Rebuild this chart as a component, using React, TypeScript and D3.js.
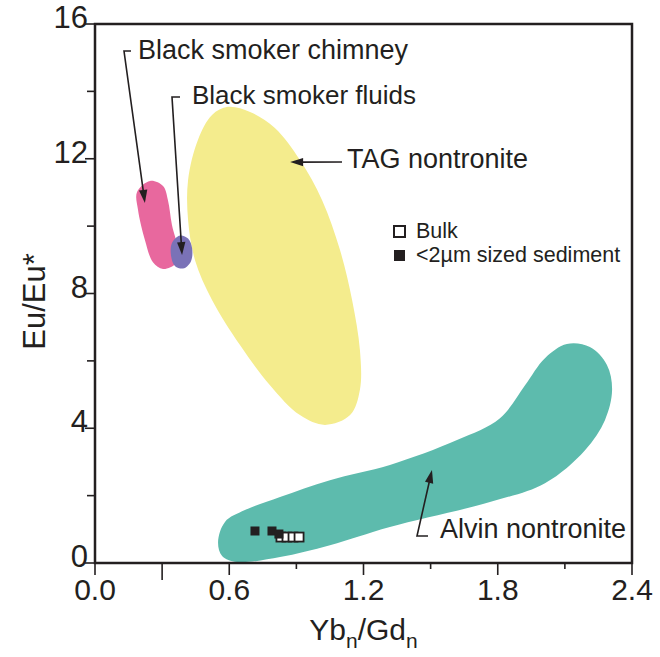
import React from 'react';
import * as d3 from 'd3';

// ---- axis ticks ----
const xTicksMajor = [0, 0.6, 1.2, 1.8, 2.4];
const xTickLabels = ['0.0', '0.6', '1.2', '1.8', '2.4'];
const xTicksMinor = [0.3, 0.9, 1.5, 2.1];
const yTicksMajor = [0, 4, 8, 12, 16];
const yTicksMinor = [2, 6, 10, 14];

// ---- field outlines (Yb_n/Gd_n, Eu/Eu*) ----
const chimneyX = [0.246, 0.304, 0.326, 0.344, 0.371, 0.362, 0.304, 0.259, 0.223, 0.192, 0.188];
const chimneyY = [11.34, 11.19, 10.77, 10.03, 9.29, 8.9, 8.73, 8.93, 9.59, 10.49, 11.01];

const fluidsX = [0.38, 0.416, 0.434, 0.429, 0.398, 0.358, 0.34, 0.344];
const fluidsY = [9.72, 9.63, 9.34, 8.96, 8.75, 8.81, 9.11, 9.5];

const tagX = [0.594, 0.693, 0.804, 0.916, 1.015, 1.095, 1.149, 1.184, 1.184, 1.14, 1.028, 0.916, 0.782, 0.648, 0.523, 0.447, 0.416, 0.416, 0.46, 0.523];
const tagY = [13.54, 13.39, 12.91, 11.96, 10.77, 9.29, 7.81, 6.32, 5.14, 4.39, 4.1, 4.39, 5.28, 6.47, 7.81, 8.99, 10.18, 11.37, 12.56, 13.3];

const alvinX = [0.55, 0.581, 0.67, 0.827, 1.05, 1.318, 1.618, 1.81, 1.922, 2.011, 2.109, 2.212, 2.288, 2.311, 2.279, 2.19, 2.011, 1.765, 1.318, 1.05, 0.827, 0.635, 0.568];
const alvinY = [0.62, 1.22, 1.57, 1.96, 2.46, 2.91, 3.65, 4.3, 5.28, 6.08, 6.5, 6.41, 5.88, 5.14, 4.24, 3.35, 2.37, 1.81, 1.07, 0.53, 0.18, 0.03, 0.21];

// ---- samples ----
const bulkX = [0.831, 0.858, 0.885, 0.912];
const bulkY = [0.77, 0.77, 0.77, 0.77];
const fineX = [0.715, 0.791, 0.822];
const fineY = [0.95, 0.95, 0.86];

// ---- labels ----
const fieldNames = ['Black smoker chimney', 'Black smoker fluids', 'TAG nontronite', 'Alvin nontronite'];
const legendNames = ['Bulk', '<2\u00b5m sized sediment'];

const W = 660;
const H = 657;
const left = 95, right = 632, top = 24, bottom = 563;
const ink = '#231f20';
const font = '"Liberation Sans", Arial, Helvetica, sans-serif';

const x = d3.scaleLinear().domain([0, 2.4]).range([left, right]);
const y = d3.scaleLinear().domain([0, 16]).range([bottom, top]);

const blob = d3
  .line<[number, number]>()
  .x((d) => x(d[0]))
  .y((d) => y(d[1]))
  .curve(d3.curveCatmullRomClosed.alpha(0.5));

const zip = (a: number[], b: number[]) => a.map((v, i) => [v, b[i]] as [number, number]);

function Arrow({ pts, tip }: { pts: [number, number][]; tip: [number, number] }) {
  const last = pts[pts.length - 1];
  const ang = Math.atan2(tip[1] - last[1], tip[0] - last[0]);
  const L = 13, hw = 4.2;
  const bx = tip[0] - L * Math.cos(ang);
  const by = tip[1] - L * Math.sin(ang);
  const p1 = [bx + hw * Math.sin(ang), by - hw * Math.cos(ang)];
  const p2 = [bx - hw * Math.sin(ang), by + hw * Math.cos(ang)];
  const line = [...pts, [bx + 2 * Math.cos(ang), by + 2 * Math.sin(ang)]]
    .map((p) => p.join(','))
    .join(' ');
  return (
    <g>
      <polyline points={line} fill="none" stroke={ink} strokeWidth={1.6} />
      <polygon points={`${tip[0]},${tip[1]} ${p1[0]},${p1[1]} ${p2[0]},${p2[1]}`} fill={ink} />
    </g>
  );
}

export default function App() {
  const fields = [
    { pts: zip(tagX, tagY), color: '#f4ec8d' },
    { pts: zip(alvinX, alvinY), color: '#5dbbad' },
    { pts: zip(chimneyX, chimneyY), color: '#e8689e' },
    { pts: zip(fluidsX, fluidsY), color: '#7a72b7' },
  ];
  const sq = 9;
  return (
    <svg width={W} height={H} style={{ position: 'absolute', left: 0, top: 0, background: '#fff' }} fontFamily={font}>
      {fields.map((f, i) => (
        <path key={i} d={blob(f.pts) || ''} fill={f.color} stroke="none" />
      ))}

      {/* samples */}
      {bulkX.map((v, i) => (
        <rect key={'b' + i} x={x(v) - sq / 2} y={y(bulkY[i]) - sq / 2} width={sq} height={sq} fill="#fff" stroke={ink} strokeWidth={1.8} />
      ))}
      {fineX.map((v, i) => (
        <rect key={'f' + i} x={x(v) - sq / 2} y={y(fineY[i]) - sq / 2} width={sq} height={sq} fill={ink} />
      ))}

      {/* frame */}
      <rect x={left} y={top} width={right - left} height={bottom - top} fill="none" stroke={ink} strokeWidth={2.5} />

      {/* x ticks */}
      {xTicksMajor.map((t, i) => (
        <g key={'xt' + i}>
          <line x1={x(t)} x2={x(t)} y1={bottom} y2={bottom + 12} stroke={ink} strokeWidth={1.6} />
          <text x={x(t)} y={600} textAnchor="middle" fontSize={30} fill={ink}>
            {xTickLabels[i]}
          </text>
        </g>
      ))}
      {xTicksMinor.map((t, i) => (
        <line key={'xm' + i} x1={x(t)} x2={x(t)} y1={bottom} y2={bottom + (i === 0 ? 17 : 6)} stroke={ink} strokeWidth={1.6} />
      ))}

      {/* y ticks */}
      {yTicksMajor.map((t, i) => (
        <g key={'yt' + i}>
          <line x1={left - 10} x2={left} y1={y(t)} y2={y(t)} stroke={ink} strokeWidth={1.6} />
          <text x={left - 7} y={y(t) + 4} textAnchor="end" fontSize={31} fill={ink}>
            {String(t)}
          </text>
        </g>
      ))}
      {yTicksMinor.map((t, i) => (
        <line key={'ym' + i} x1={left - 8} x2={left} y1={y(t)} y2={y(t)} stroke={ink} strokeWidth={1.6} />
      ))}

      {/* axis titles */}
      <text x={(left + right) / 2} y={640} textAnchor="middle" fontSize={30} fill={ink}>
        Yb<tspan fontSize={21} dy={8}>n</tspan>
        <tspan dy={-8}>/Gd</tspan>
        <tspan fontSize={21} dy={8}>n</tspan>
      </text>
      <text transform={`translate(45, ${(top + bottom) / 2 + 8}) rotate(-90)`} textAnchor="middle" fontSize={31} fill={ink}>
        Eu/Eu*
      </text>

      {/* annotations */}
      <text x={138} y={59} fontSize={27} fill={ink}>{fieldNames[0]}</text>
      <Arrow pts={[[131, 51], [124, 51]]} tip={[x(0.223), y(10.69)]} />

      <text x={192} y={104} fontSize={26} fill={ink}>{fieldNames[1]}</text>
      <Arrow pts={[[180, 97], [172, 97]]} tip={[x(0.389), y(9.14)]} />

      <text x={347} y={168} fontSize={27} fill={ink}>{fieldNames[2]}</text>
      <Arrow pts={[[342, 162]]} tip={[x(0.872), y(11.9)]} />

      <text x={440} y={538} fontSize={27} fill={ink}>{fieldNames[3]}</text>
      <Arrow pts={[[428, 536], [417, 536]]} tip={[x(1.506), y(2.76)]} />

      {/* legend */}
      <rect x={394} y={226} width={11} height={11} fill="#fff" stroke={ink} strokeWidth={2} />
      <text x={416} y={238} fontSize={21.5} fill={ink}>{legendNames[0]}</text>
      <rect x={394} y={250} width={11} height={11} fill={ink} />
      <text x={416} y={262} fontSize={21.5} fill={ink}>{legendNames[1]}</text>
    </svg>
  );
}
